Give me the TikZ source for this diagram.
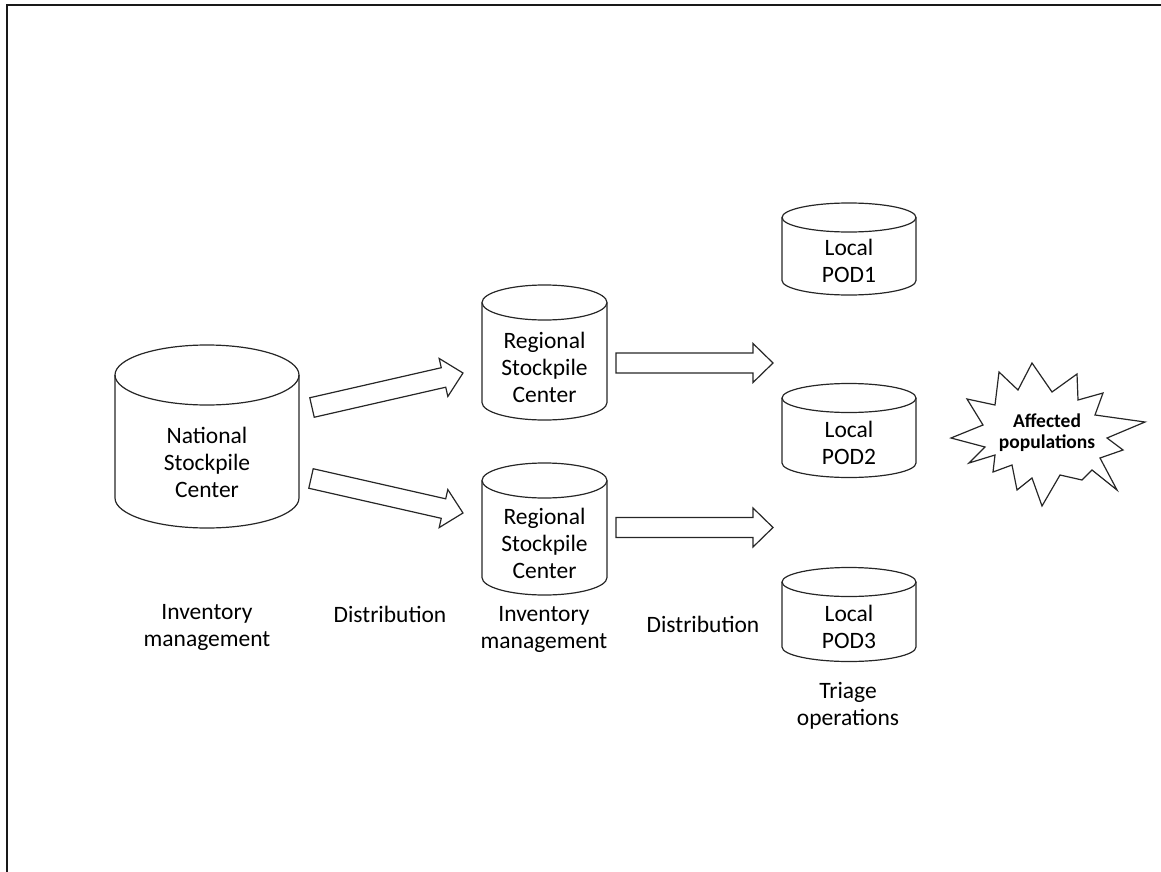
\documentclass[tikz,border=0pt]{standalone}
\usepackage{fontspec}
\setmainfont{Carlito}
\usetikzlibrary{calc}

% cylinder: name, centre x, top-cap centre y, bottom-cap centre y, x radius, y radius, text
\newcommand{\drumnode}[7]{%
  \draw[outline] ({#2-#5},#3) -- ({#2-#5},#4)
     arc[start angle=180, end angle=360, x radius=#5pt, y radius=#6pt]
     -- ({#2+#5},#3);
  \draw[outline] (#2,#3) ellipse[x radius=#5pt, y radius=#6pt];
  \node[txt] (#1) at (#2,{(#3+#4)/2+0.85*#6}) {#7};
}

% hollow block arrow from one named coordinate to another
\newcommand{\fatarrow}[2]{%
  \path let \p1=($(#2)-(#1)$), \n1={atan2(\y1,\x1)}, \n2={veclen(\x1,\y1)} in
    \pgfextra{\xdef\fatang{\n1}\xdef\fatlen{\n2}};
  \begin{scope}[shift={(#1)}, rotate=\fatang, x=1pt, y=1pt]
    \draw[outline] (0,10) -- ({\fatlen-20},10) -- ({\fatlen-20},19.5)
      -- (\fatlen,0) -- ({\fatlen-20},-19.5) -- ({\fatlen-20},-10)
      -- (0,-10) -- cycle;
  \end{scope}}

\begin{document}
\begin{tikzpicture}[x=1pt, y=-1pt,
  outline/.style={draw=black!85, line width=1.2pt, line join=miter},
  txt/.style={font=\fontsize{23.5}{27}\selectfont, align=center, inner sep=0pt},
  burst/.style={font=\bfseries\fontsize{19.5}{21}\selectfont, align=center, inner sep=0pt}]
\useasboundingbox (0,0) rectangle (1161,872);

% frame
\draw[line width=2pt, black!90] (7,872) -- (7,5) -- (1161,5);

% storage sites
\drumnode{nsc}{207}{375}{498}{92}{30}{National\\Stockpile\\Center}
\drumnode{rsc1}{544.5}{302.5}{402.5}{62.5}{17.5}{Regional\\Stockpile\\Center}
\drumnode{rsc2}{544.5}{480.5}{577.5}{62.5}{17.5}{Regional\\Stockpile\\Center}
\drumnode{pod1}{849}{217.5}{280.5}{67}{14.5}{Local\\POD1}
\drumnode{pod2}{849}{398}{463}{67}{14.5}{Local\\POD2}
\drumnode{pod3}{849}{582}{647}{67}{14.5}{Local\\POD3}

% flow arrows
\coordinate (nsc-o1) at (312,407.5);
\coordinate (rsc1-i) at (463,373);
\coordinate (nsc-o2) at (311,478.5);
\coordinate (rsc2-i) at (463,513);
\coordinate (rsc1-o) at (616,363);
\coordinate (pod-i1) at (773,363);
\coordinate (rsc2-o) at (616,527.5);
\coordinate (pod-i2) at (773,527.5);
\fatarrow{nsc-o1}{rsc1-i}
\fatarrow{nsc-o2}{rsc2-i}
\fatarrow{rsc1-o}{pod-i1}
\fatarrow{rsc2-o}{pod-i2}

% explosion outline
\draw[outline] (951,438) -- (983,425) -- (967,399) -- (995,405) -- (999,372)
  -- (1018,390) -- (1032,363) -- (1052,392) -- (1077,374) -- (1078,400)
  -- (1103,393) -- (1095,415) -- (1145,422) -- (1107,438) -- (1123,450)
  -- (1100,458) -- (1117,490) -- (1092,470) -- (1082,480) -- (1060,475)
  -- (1042,506) -- (1032,478) -- (1017,490) -- (1012,465) -- (993,472)
  -- (995,455) -- (969,463) -- (985,447) -- cycle;
\node[burst] (pop) at (1047,433) {Affected\\populations};

% stage captions
\node[txt] (inv1) at (207,627) {Inventory\\management};
\node[txt] (dist1) at (390,614) {Distribution};
\node[txt] (inv2) at (544,629) {Inventory\\management};
\node[txt] (dist2) at (703,624) {Distribution};
\node[txt] (triage) at (848,706) {Triage\\operations};
\end{tikzpicture}
\end{document}
